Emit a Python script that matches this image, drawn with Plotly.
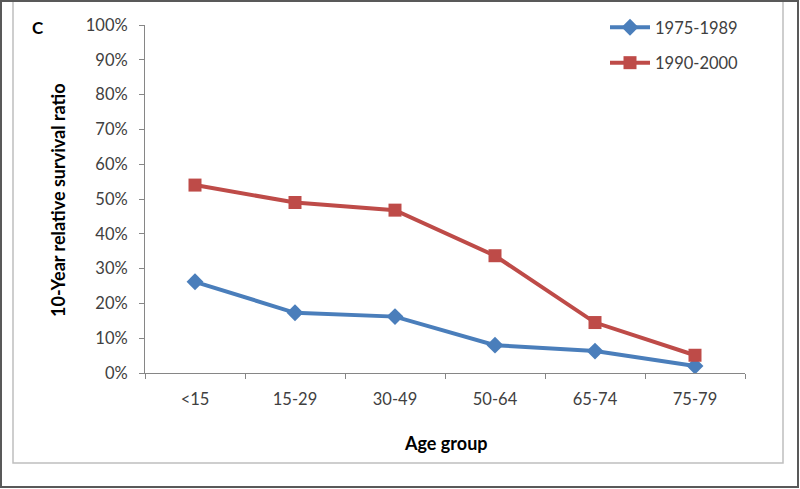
import plotly.graph_objects as go

age_groups = ["<15", "15-29", "30-49", "50-64", "65-74", "75-79"]
period_1975_1989 = [0.262, 0.173, 0.162, 0.080, 0.063, 0.020]
period_1990_2000 = [0.540, 0.490, 0.468, 0.337, 0.145, 0.051]
y_ticks = [i / 10 for i in range(11)]

W, H = 800, 489
L, R, T, B = 145, 55, 25, 116
pw, ph = W - L - R, H - T - B

def px(x):
    return (x - L) / pw

def py(y):
    return (H - B - y) / ph

fig = go.Figure()
fig.add_trace(go.Scatter(
    x=age_groups, y=period_1975_1989, name="1975-1989", mode="lines+markers",
    line=dict(color="#4a7ebb", width=4),
    marker=dict(symbol="diamond", size=13, color="#4a7ebb"),
    legendgroup="a",
))
fig.add_trace(go.Scatter(
    x=age_groups, y=period_1990_2000, name="1990-2000", mode="lines+markers",
    line=dict(color="#be4b48", width=4),
    marker=dict(symbol="square", size=13, color="#be4b48"),
    legendgroup="b",
))

font_fam = "Lato, 'Open Sans', sans-serif"
fig.update_layout(
    width=W, height=H,
    margin=dict(l=L, r=R, t=T, b=B, autoexpand=False),
    paper_bgcolor="white", plot_bgcolor="white",
    font=dict(family=font_fam, color="#404040", size=16.5),
    showlegend=True,
    legend=dict(x=px(605), y=py(10), xanchor="left", yanchor="top",
                font=dict(size=16.5, color="#404040"), tracegroupgap=11,
                bgcolor="rgba(0,0,0,0)", itemwidth=40),
    xaxis=dict(
        type="category", showgrid=False, showline=True, linecolor="#868686", linewidth=1,
        ticks="outside", ticklen=5, tickcolor="#868686", tickson="boundaries",
        ticklabelstandoff=11, range=[-0.5, 5.5],
        tickfont=dict(size=16.5, color="#404040"),
    ),
    yaxis=dict(
        range=[0, 1], tickvals=y_ticks, tickformat=".0%", showgrid=False,
        showline=True, linecolor="#868686", linewidth=1, ticks="outside", ticklen=5,
        tickcolor="#868686", ticklabelstandoff=8, zeroline=False,
        tickfont=dict(size=16.5, color="#404040"),
    ),
    annotations=[
        dict(text="<b>C</b>", x=px(38), y=py(27), xref="paper", yref="paper",
             xanchor="center", yanchor="middle",
             showarrow=False, font=dict(size=17, color="black", family=font_fam)),
        dict(text="<b>10-Year relative survival ratio</b>", x=px(58), y=py(200),
             xref="paper", yref="paper", textangle=-90, showarrow=False,
             xanchor="center", yanchor="middle",
             font=dict(size=18, color="black", family=font_fam)),
        dict(text="<b>Age group</b>", x=px(446), y=py(443), xref="paper", yref="paper",
             xanchor="center", yanchor="middle",
             showarrow=False, font=dict(size=18, color="black", family=font_fam)),
    ],
    shapes=[
        dict(type="rect", xref="paper", yref="paper",
             x0=px(13), x1=px(783), y0=py(463), y1=py(-2),
             line=dict(color="#bfbfbf", width=1.5)),
        dict(type="rect", xref="paper", yref="paper",
             x0=px(1), x1=px(798), y0=py(487), y1=py(1),
             line=dict(color="#595959", width=2)),
    ],
)

fig.write_html("out.html", config={"displayModeBar": False},
               post_script="document.body.style.margin='0';document.body.style.padding='0';")
